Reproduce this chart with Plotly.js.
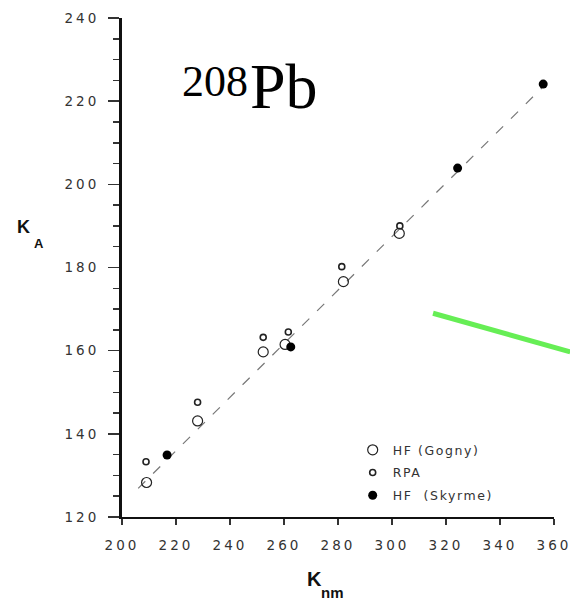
<!DOCTYPE html>
<html>
<head>
<meta charset="utf-8">
<script src="https://cdn.plot.ly/plotly-3.0.1.min.js"></script>
<style>
html,body{margin:0;padding:0;background:#fff;}
#chart{width:570px;height:600px;}
.xtick text, .ytick text{letter-spacing:3px;}
.legendtext{letter-spacing:1.6px;}
</style>
</head>
<body>
<div id="chart"></div>
<script>
// HF (Gogny) open circles
const gognyX = [209.1, 228.0, 252.3, 260.4, 282.0, 302.7];
const gognyY = [128.3, 143.1, 159.7, 161.5, 176.6, 188.2];
// RPA small open markers
const rpaX = [208.9, 228.0, 252.3, 261.6, 281.4, 302.9];
const rpaY = [133.3, 147.6, 163.2, 164.5, 180.2, 190.0];
// HF (Skyrme) filled circles
const skyrmeX = [216.7, 262.5, 324.3, 356.0];
const skyrmeY = [134.9, 160.9, 203.9, 224.1];
// dashed fit line
const fitX = [206, 356];
const fitY = [126.9, 223.5];
// green pointer line (data coords)
const pointerX = [315.2, 366.0];
const pointerY = [169.0, 159.7];
// ticks
const xTicks = [200, 220, 240, 260, 280, 300, 320, 340, 360];
const yTicks = [120, 140, 160, 180, 200, 220, 240];
const xRange = [200, 360];
const yRange = [120, 240];

const tickFont = {family: 'DejaVu Sans, Arial, sans-serif', size: 13.5, color: '#333'};

const traces = [
  {x: fitX, y: fitY, mode: 'lines', showlegend: false, hoverinfo: 'skip',
   line: {color: '#777', width: 1.2, dash: '10px,11px'}},
  {x: gognyX, y: gognyY, mode: 'markers', name: 'HF (Gogny)', legendgroup: 'g1',
   marker: {symbol: 'circle-open', size: 10, color: '#222', line: {width: 1.2}}},
  {x: rpaX, y: rpaY, mode: 'markers', name: 'RPA', legendgroup: 'g2',
   marker: {symbol: 'circle-open', size: 6, color: '#222', line: {width: 1.6}}},
  {x: skyrmeX, y: skyrmeY, mode: 'markers', name: 'HF  (Skyrme)', legendgroup: 'g3',
   marker: {symbol: 'circle', size: 9, color: '#000'}}
];

const toPX = v => (v - xRange[0]) / (xRange[1] - xRange[0]);
const toPY = v => (v - yRange[0]) / (yRange[1] - yRange[0]);

const layout = {
  width: 570, height: 600,
  margin: {l: 122, r: 16, t: 18, b: 83},
  paper_bgcolor: '#fff', plot_bgcolor: '#fff',
  showlegend: true,
  legend: {x: 0.534, y: 0.164, xanchor: 'left', yanchor: 'top',
           font: {family: 'DejaVu Sans, Arial, sans-serif', size: 12.5, color: '#333'},
           bgcolor: 'rgba(0,0,0,0)', itemwidth: 30, tracegroupgap: 3.5},
  xaxis: {range: xRange, tickvals: xTicks, showline: true, linewidth: 2, linecolor: '#111',
          ticks: 'outside', ticklen: 6, tickwidth: 1.5, tickcolor: '#333',
          ticklabeloverflow: 'allow',
          showgrid: false, zeroline: false, tickfont: tickFont, ticklabelstandoff: 9},
  yaxis: {range: yRange, tickvals: yTicks, showline: true, linewidth: 3, linecolor: '#111',
          ticks: 'outside', ticklen: 11, tickwidth: 1.5, tickcolor: '#333',
          ticklabeloverflow: 'allow',
          minor: {dtick: 5, ticks: 'outside', ticklen: 6, tickwidth: 1.5, tickcolor: '#333'},
          showgrid: false, zeroline: false, tickfont: tickFont, ticklabelstandoff: 6},
  shapes: [
    {type: 'line', xref: 'paper', yref: 'paper',
     x0: toPX(pointerX[0]), y0: toPY(pointerY[0]), x1: toPX(pointerX[1]), y1: toPY(pointerY[1]),
     line: {color: '#66ee55', width: 5}}
  ],
  annotations: [
    {xref: 'paper', yref: 'paper', x: 0.134, y: 0.872, xanchor: 'left', yanchor: 'middle',
     showarrow: false, text: '208',
     font: {family: 'Liberation Serif, Times New Roman, serif', size: 44, color: '#000'}},
    {xref: 'paper', yref: 'paper', x: 0.292, y: 0.862, xanchor: 'left', yanchor: 'middle',
     showarrow: false, text: 'Pb',
     font: {family: 'Liberation Serif, Times New Roman, serif', size: 64, color: '#000'}},
    {xref: 'paper', yref: 'paper', x: -0.2477, y: 0.582, xanchor: 'left', yanchor: 'middle',
     showarrow: false, text: '<b>K</b>',
     font: {family: 'Arial, Liberation Sans, sans-serif', size: 18, color: '#111'}},
    {xref: 'paper', yref: 'paper', x: -0.208, y: 0.549, xanchor: 'left', yanchor: 'middle',
     showarrow: false, text: '<b>A</b>',
     font: {family: 'Arial, Liberation Sans, sans-serif', size: 13, color: '#111'}},
    {xref: 'paper', yref: 'paper', x: 0.4236, y: -0.124, xanchor: 'left', yanchor: 'middle',
     showarrow: false, text: '<b>K</b>',
     font: {family: 'Arial, Liberation Sans, sans-serif', size: 20, color: '#111'}},
    {xref: 'paper', yref: 'paper', x: 0.456, y: -0.151, xanchor: 'left', yanchor: 'middle',
     showarrow: false, text: '<b>nm</b>',
     font: {family: 'Arial, Liberation Sans, sans-serif', size: 15, color: '#111'}}
  ]
};

Plotly.newPlot('chart', traces, layout, {displayModeBar: false, staticPlot: true});
</script>
</body>
</html>
